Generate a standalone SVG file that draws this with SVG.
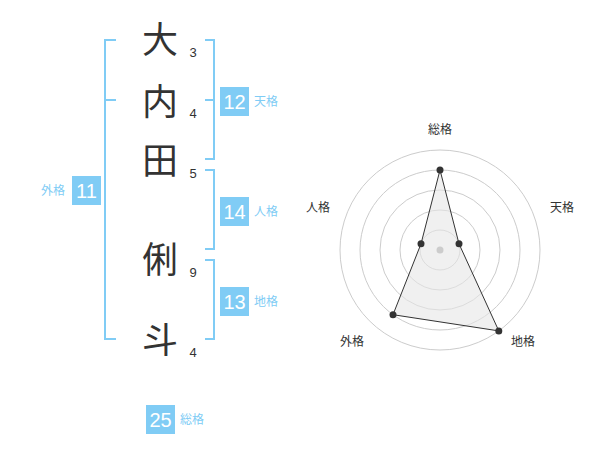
<svg xmlns="http://www.w3.org/2000/svg" width="600" height="470" viewBox="0 0 600 470">
<style>
.ch{font-family:"Noto Sans CJK JP","Noto Sans CJK SC",sans-serif;font-size:36px;fill:#333;text-anchor:middle}
.st{font-family:"Liberation Sans",Arial,sans-serif;font-size:13px;fill:#333;text-anchor:middle}
.br{fill:none;stroke:#80ccf5;stroke-width:2}
.bx{fill:#80ccf5}
.bn{font-family:"Liberation Sans",Arial,sans-serif;font-size:20px;fill:#fff;text-anchor:middle}
.bl{font-family:"Noto Sans CJK JP","Noto Sans CJK SC",sans-serif;font-size:12px;fill:#80ccf5}
.rg{fill:none;stroke:#ccc;stroke-width:1}
.rl{font-family:"Noto Sans CJK JP","Noto Sans CJK SC",sans-serif;font-size:12px;fill:#333;text-anchor:middle}
.pt{fill:#333}
</style>
<rect width="600" height="470" fill="#fff"/>
<g id="chars">
<text class="ch" x="160" y="53">大</text>
<text class="ch" x="160" y="115">内</text>
<text class="ch" x="160" y="174">田</text>
<text class="ch" x="160" y="273">俐</text>
<text class="ch" x="160" y="353">斗</text>
<text class="st" x="193" y="57">3</text>
<text class="st" x="193" y="118">4</text>
<text class="st" x="193" y="178">5</text>
<text class="st" x="193" y="277">9</text>
<text class="st" x="193" y="357">4</text>
</g>
<g id="connectors">
<path class="br" d="M116,40 H105 V339 H116 M105,100 H116"/>
<path class="br" d="M205,40 H214 V159 H205 M205,100 H214"/>
<path class="br" d="M205,170 H214 V249 H205"/>
<path class="br" d="M205,260 H214 V339 H205"/>
</g>
<g id="tenkaku">
<rect class="bx" x="220" y="87" width="29" height="29"/>
<text class="bn" x="234.5" y="108.5">12</text>
<text class="bl" x="254" y="106">天格</text>
</g>
<g id="jinkaku">
<rect class="bx" x="220" y="197" width="29" height="29"/>
<text class="bn" x="234.5" y="218.5">14</text>
<text class="bl" x="254" y="216">人格</text>
</g>
<g id="chikaku">
<rect class="bx" x="220" y="287" width="29" height="29"/>
<text class="bn" x="234.5" y="308.5">13</text>
<text class="bl" x="254" y="306">地格</text>
</g>
<g id="gaikaku">
<rect class="bx" x="72" y="176" width="29" height="29"/>
<text class="bn" x="86.5" y="197.5">11</text>
<text class="bl" x="41" y="195">外格</text>
</g>
<g id="soukaku">
<rect class="bx" x="146" y="405" width="29" height="29"/>
<text class="bn" x="160.5" y="426.5">25</text>
<text class="bl" x="180" y="424">総格</text>
</g>
<g id="radar">
<circle class="rg" cx="440" cy="250" r="20"/>
<circle class="rg" cx="440" cy="250" r="40"/>
<circle class="rg" cx="440" cy="250" r="60"/>
<circle class="rg" cx="440" cy="250" r="80"/>
<circle class="rg" cx="440" cy="250" r="100"/>
<polygon points="440,170 459.0,243.8 498.8,330.9 393.0,314.7 421.0,243.8" fill="#e6e6e6" fill-opacity="0.6" stroke="#333" stroke-width="1"/>
<circle cx="440" cy="250" r="3.5" fill="#ccc"/>
<circle class="pt" cx="440" cy="170" r="3.5"/>
<circle class="pt" cx="459.0" cy="243.8" r="3.5"/>
<circle class="pt" cx="498.8" cy="330.9" r="3.5"/>
<circle class="pt" cx="393.0" cy="314.7" r="3.5"/>
<circle class="pt" cx="421.0" cy="243.8" r="3.5"/>
<text class="rl" x="440" y="134">総格</text>
<text class="rl" x="562" y="212">天格</text>
<text class="rl" x="318" y="212">人格</text>
<text class="rl" x="523" y="346">地格</text>
<text class="rl" x="352" y="346">外格</text>
</g>
</svg>
